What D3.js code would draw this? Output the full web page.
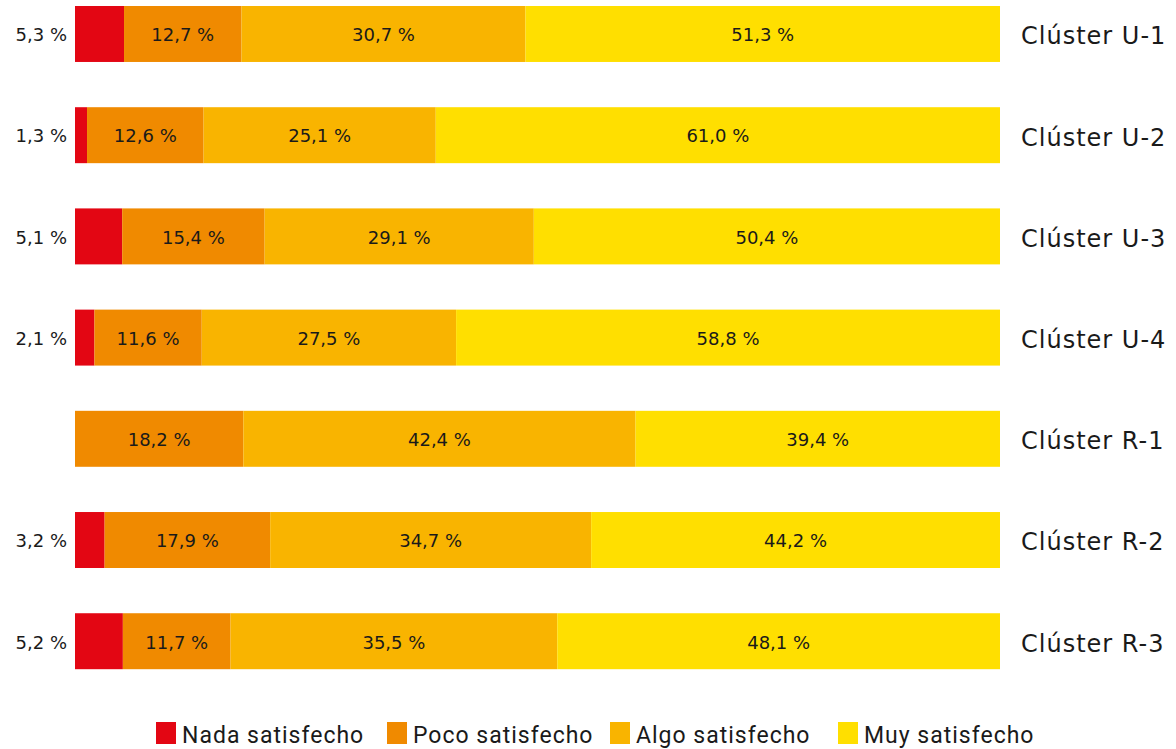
<!DOCTYPE html>
<html>
<head>
<meta charset="utf-8">
<script src="https://cdn.jsdelivr.net/npm/d3@7"></script>
<style>
  body { margin: 0; background: #fff; }
  svg { display: block; }
</style>
</head>
<body>
<div id="chart"></div>
<script>
var clusters = ["Clúster U-1", "Clúster U-2", "Clúster U-3", "Clúster U-4", "Clúster R-1", "Clúster R-2", "Clúster R-3"];
var nada  = [5.3, 1.3, 5.1, 2.1, 0, 3.2, 5.2];
var poco  = [12.7, 12.6, 15.4, 11.6, 18.2, 17.9, 11.7];
var algo  = [30.7, 25.1, 29.1, 27.5, 42.4, 34.7, 35.5];
var muy   = [51.3, 61.0, 50.4, 58.8, 39.4, 44.2, 48.1];
var seriesNames = ["Nada satisfecho", "Poco satisfecho", "Algo satisfecho", "Muy satisfecho"];
var colors = ["#e30613", "#f08a00", "#f9b400", "#ffdf00"];

var width = 1176, height = 749;
var fontFam = "'DejaVu Sans', 'Noto Sans', sans-serif";

var rows = clusters.map(function (c, i) {
    return { cluster: c, s0: nada[i], s1: poco[i], s2: algo[i], s3: muy[i] };
});
var raw = [nada, poco, algo, muy];

var svg = d3.select("#chart")
    .append("svg")
    .attr("width", width)
    .attr("height", height);

// bars are shown as shares of the row total (all rows end at the same x)
var x = d3.scaleLinear().domain([0, 1]).range([75, 1000]);
var y = d3.scaleBand().domain(clusters).range([6, 669.2]).paddingInner(0.447).paddingOuter(0);

var stack = d3.stack().keys(["s0", "s1", "s2", "s3"]).offset(d3.stackOffsetExpand);
var layers = stack(rows);

var fmt = function (v) { return v.toFixed(1).replace(".", ",") + " %"; };

var layer = svg.selectAll(".layer")
    .data(layers)
    .enter()
    .append("g")
    .attr("class", "layer")
    .attr("fill", function (d, i) { return colors[i]; });

layer.selectAll("rect")
    .data(function (d) { return d; })
    .enter()
    .append("rect")
    .attr("x", function (d) { return x(d[0]); })
    .attr("y", function (d) { return y(d.data.cluster); })
    .attr("width", function (d) { return x(d[1]) - x(d[0]); })
    .attr("height", y.bandwidth());

// value labels; the first series sits left of the bar
layers.forEach(function (L, k) {
    svg.append("g").selectAll("text")
        .data(L.filter(function (d, i) { return raw[k][i] > 0; }))
        .enter()
        .append("text")
        .attr("x", function (d) { return k === 0 ? x(0) - 8 : (x(d[0]) + x(d[1])) / 2; })
        .attr("y", function (d) { return y(d.data.cluster) + y.bandwidth() / 2 + 1; })
        .attr("dy", "0.35em")
        .attr("text-anchor", k === 0 ? "end" : "middle")
        .attr("font-family", fontFam)
        .attr("font-size", 18)
        .attr("fill", "#1a1a1a")
        .text(function (d) { return fmt(raw[k][clusters.indexOf(d.data.cluster)]); });
});

// cluster labels on the right
svg.append("g").selectAll("text")
    .data(clusters)
    .enter()
    .append("text")
    .attr("x", 1021)
    .attr("y", function (d) { return y(d) + y.bandwidth() / 2 + 2; })
    .attr("dy", "0.35em")
    .attr("font-family", fontFam)
    .attr("font-size", 24)
    .attr("letter-spacing", 1)
    .attr("fill", "#1a1a1a")
    .text(function (d) { return d; });

// legend
var legendX = [156, 387, 610, 838];
var legend = svg.append("g").selectAll("g")
    .data(seriesNames)
    .enter()
    .append("g")
    .attr("transform", function (d, i) { return "translate(" + legendX[i] + ",722)"; });

legend.append("rect")
    .attr("width", 20)
    .attr("height", 22)
    .attr("fill", function (d, i) { return colors[i]; });

legend.append("text")
    .attr("x", 26)
    .attr("y", 12)
    .attr("dy", "0.38em")
    .attr("font-family", "Roboto, sans-serif")
    .attr("font-size", 23)
    .attr("letter-spacing", 1)
    .attr("fill", "#1a1a1a")
    .text(function (d) { return d; });
</script>
</body>
</html>
